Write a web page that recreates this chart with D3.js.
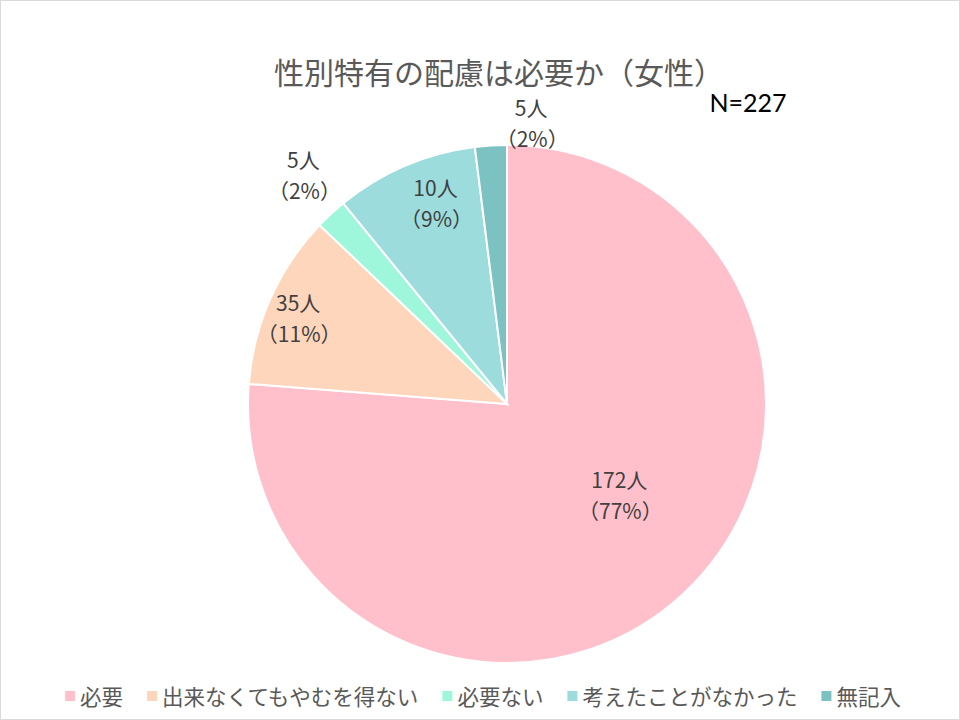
<!DOCTYPE html>
<html><head><meta charset="utf-8">
<script src="https://cdn.jsdelivr.net/npm/d3@7"></script>
<style>body{margin:0;background:#fff;} svg{display:block;font-family:"Noto Sans CJK JP","Noto Sans",sans-serif;}</style>
</head><body>
<svg id="c" width="960" height="720"></svg>
<script>
const categories = ["必要","出来なくてもやむを得ない","必要ない","考えたことがなかった","無記入"];
const counts = [172, 35, 5, 10, 5];
const percents = [77, 11, 2, 9, 2];
const colors = ["#FFC0CB","#FDD6BC","#9EF7DA","#9CDCDC","#7DC2C2"];
const title = "性別特有の配慮は必要か（女性）";
const nLabel = "N=227";

const svg = d3.select("#c");
svg.append("rect").attr("x",0.5).attr("y",0.5).attr("width",959).attr("height",719)
  .attr("fill","#fff").attr("stroke","#d9d9d9");

svg.append("text").attr("x",499).attr("y",84).attr("text-anchor","middle")
  .attr("font-size",30).attr("fill","#595959").text(title);
svg.append("text").attr("x",748).attr("y",112).attr("text-anchor","middle")
  .attr("font-size",25).attr("fill","#000").attr("font-family","Lato, Liberation Sans, sans-serif").text(nLabel);

const cx = 507, cy = 404, r = 259;
const data = categories.map((c,i)=>({cat:c,count:counts[i],pct:percents[i],color:colors[i]}));
const pie = d3.pie().value(d=>d.pct).sort(null);
const arc = d3.arc().innerRadius(0).outerRadius(r);
const g = svg.append("g").attr("transform",`translate(${cx},${cy})`);
const arcs = pie(data);
g.selectAll("path").data(arcs).enter().append("path")
  .attr("d",arc).attr("fill",d=>d.data.color).attr("stroke","#fff").attr("stroke-width",2);

// label placement: radius factor and angle shift (degrees) from slice mid-angle
const labelR = [0.56, 0.87, 1.18, 0.82, 1.085];
const labelShift = [-8, -2, 1, 3.5, 8.5];
arcs.forEach((a,i)=>{
  const ang = (a.startAngle + a.endAngle)/2 + labelShift[i]*Math.PI/180;
  const rr = r*labelR[i];
  const x = cx + Math.sin(ang)*rr, y = cy - Math.cos(ang)*rr;
  const t = svg.append("text").attr("text-anchor","middle").attr("font-size",21).attr("fill","#404040");
  t.append("tspan").attr("x",x).attr("y",y-8).text(a.data.count+"人");
  t.append("tspan").attr("x",x+1).attr("y",y+23).text("（"+a.data.pct+"%）");
});

// legend
const lg = svg.append("g");
const items = [];
data.forEach((d,i)=>{
  const it = lg.append("g");
  it.append("rect").attr("x",0).attr("y",-6).attr("width",10).attr("height",10).attr("fill",d.color);
  const tx = it.append("text").attr("x",15).attr("y",0).attr("dy","0.35em").attr("font-size",21.5).attr("fill","#595959").text(d.cat);
  const w = 15 + tx.node().getComputedTextLength();
  items.push({it,w});
});
const gap = 24;
const total = d3.sum(items,d=>d.w) + gap*(items.length-1);
let cur = 483 - total/2;
items.forEach(o=>{ o.it.attr("transform",`translate(${cur},697)`); cur += o.w + gap; });
</script>
</body></html>
